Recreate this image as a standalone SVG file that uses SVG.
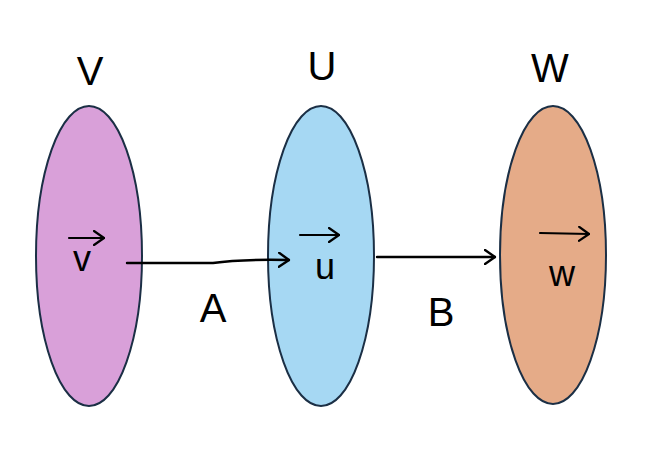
<svg xmlns="http://www.w3.org/2000/svg" width="670" height="456" viewBox="0 0 670 456">
<defs>
<marker id="open" viewBox="0 0 12 16" refX="11" refY="8" markerWidth="12" markerHeight="16" markerUnits="userSpaceOnUse" orient="auto">
<path d="M1,1 L11,8 L1,15" fill="none" stroke="#000" stroke-width="2.4" stroke-linecap="round" stroke-linejoin="round"/>
</marker>
<marker id="small" viewBox="0 0 12 16" refX="11" refY="8" markerWidth="12" markerHeight="16" markerUnits="userSpaceOnUse" orient="auto">
<path d="M1,1 L11,8 L1,15" fill="none" stroke="#000" stroke-width="2.2" stroke-linecap="round" stroke-linejoin="round"/>
</marker>
</defs>
<style>
.set{stroke:#1b2f45;stroke-width:2}
.lbl{font-family:"Liberation Sans",Arial,sans-serif;fill:#000;text-anchor:middle}
.big{font-size:40px}
.vec{font-size:36px}
.conn{fill:none;stroke:#000;stroke-width:2.4;stroke-linecap:round}
.va{fill:none;stroke:#000;stroke-width:2.2;stroke-linecap:round}
</style>
<rect width="670" height="456" fill="#fff"/>
<g id="node-V">
<ellipse class="set" cx="89" cy="256" rx="53" ry="150" fill="#d9a0d9"/>
<text class="lbl big" x="90" y="85">V</text>
<path class="va" d="M69,238 L104,238" marker-end="url(#small)"/>
<text class="lbl vec" x="82" y="271">v</text>
</g>
<g id="node-U">
<ellipse class="set" cx="321" cy="256" rx="53" ry="150" fill="#a6d8f3"/>
<text class="lbl big" x="322" y="80">U</text>
<path class="va" d="M300,235 L339,235" marker-end="url(#small)"/>
<text class="lbl vec" x="325" y="279">u</text>
</g>
<g id="node-W">
<ellipse class="set" cx="553" cy="255" rx="53" ry="149" fill="#e5ab88"/>
<text class="lbl big" x="550" y="82">W</text>
<path class="va" d="M540,233 L589,234" marker-end="url(#small)"/>
<text class="lbl vec" x="562" y="286">w</text>
</g>
<g id="connectors">
<path class="conn" d="M127,263 L213,263 Q240,259 289,260" marker-end="url(#open)"/>
<text class="lbl big" x="213" y="322">A</text>
<path class="conn" d="M377,257 L495,257" marker-end="url(#open)"/>
<text class="lbl big" x="441" y="326">B</text>
</g>
</svg>
